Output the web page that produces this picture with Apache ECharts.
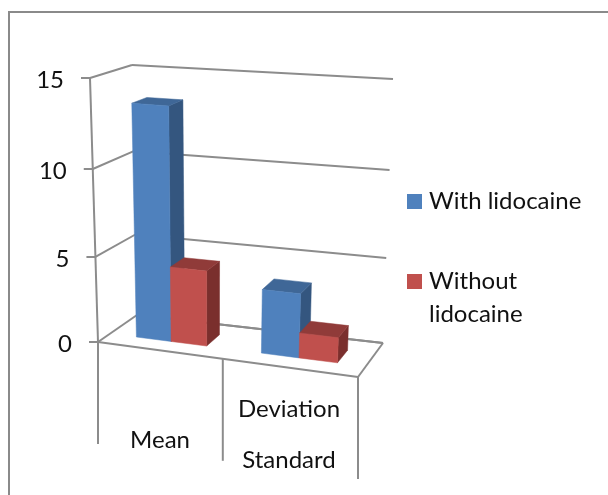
<!DOCTYPE html>
<html>
<head>
<meta charset="utf-8">
<style>
  html, body { margin: 0; padding: 0; background: #fff; }
  #chart { width: 608px; height: 495px; }
</style>
</head>
<body>
<div id="chart"></div>
<script src="https://cdn.jsdelivr.net/npm/echarts@6/dist/echarts.min.js"></script>
<script>
const categories = ['Mean', 'Standard Deviation']
const categoryLines = [['Mean'], ['Deviation', 'Standard']]
const withLidocaine = [13.5, 3.7]
const withoutLidocaine = [4.4, 1.45]
const yTicks = [0, 5, 10, 15]
const seriesNames = ['With lidocaine', 'Without lidocaine']

const fontFamily = 'Lato, sans-serif'
const fontSize = 24
const lineColor = '#8c8c8c'
const blue = { front: '#4f81bd', side: '#34567f', top: '#3f6797' }
const red = { front: '#c0504d', side: '#7a2f2d', top: '#903b39' }

// flat grid the axes work on, the 3D look is a warp on top of it
const gridLeft = 98
const gridTop = 78
const gridWidth = 260
const gridHeight = 264

// floor corners and height vectors
const FL = [98, 342], FR = [358, 377], BL = [137, 315], BR = [383, 343]
const HFL = [-8, -264], HFR = [12, -278], HBL = [-5, -250], HBR = [10, -264]

const lerp = (a, b, k) => [a[0] + (b[0] - a[0]) * k, a[1] + (b[1] - a[1]) * k]

// flat pixel + depth (0 front, 1 back) => picture pixel
function warp(pt, d) {
  const s = (pt[0] - gridLeft) / gridWidth
  const t = (gridTop + gridHeight - pt[1]) / gridHeight
  const u = 0.92 * s + 0.08 * s * s
  const h = 0.949 * t + 0.051 * t * t
  const floor = lerp(lerp(FL, FR, u), lerp(BL, BR, u), d)
  const up = lerp(lerp(HFL, HFR, u), lerp(HBL, HBR, u), d)
  return [floor[0] + up[0] * h, floor[1] + up[1] * h]
}

const poly = (points, fill) => ({
  type: 'polygon',
  shape: { points: points },
  style: { fill: fill, stroke: fill, lineWidth: 0.5 }
})
const line = (a, b) => ({
  type: 'line',
  shape: { x1: a[0], y1: a[1], x2: b[0], y2: b[1] },
  style: { stroke: lineColor, lineWidth: 2 }
})
const label = (text, x, y, align) => ({
  type: 'text',
  style: { text: text, x: x, y: y, align: align, verticalAlign: 'middle', fill: '#111', font: fontSize + 'px ' + fontFamily }
})

// one 3D bar, side 0 sits left of the category centre and side 1 right of it
function barItem(side, colors) {
  return function (params, api) {
    const cat = api.value(0)
    const val = api.value(1)
    const band = api.size([1, 0])[0] * 0.286
    const top = api.coord([cat, val])
    const base = api.coord([cat, 0])
    const x0 = top[0] + (side - 1) * band + 1
    const x1 = x0 + band
    const d0 = 0.31
    const d1 = 0.69
    const p = (x, y, d) => warp([x, y], d)
    return {
      type: 'group',
      children: [
        poly([p(x1, base[1], d0), p(x1, base[1], d1), p(x1, top[1], d1), p(x1, top[1], d0)], colors.side),
        poly([p(x0, top[1], d0), p(x1, top[1], d0), p(x1, top[1], d1), p(x0, top[1], d1)], colors.top),
        poly([p(x0, base[1], d0), p(x1, base[1], d0), p(x1, top[1], d0), p(x0, top[1], d0)], colors.front)
      ]
    }
  }
}

// side wall line, back wall line, tick and number for one y tick
function wallItem(params, api) {
  const val = api.value(0)
  const y = api.coord([0, val])[1]
  const front = warp([gridLeft, y], 0)
  const back = warp([gridLeft, y], 1)
  const right = warp([gridLeft + gridWidth, y], 1)
  return {
    type: 'group',
    children: [
      line(front, back),
      line(back, right),
      line([front[0] - 9, front[1]], front),
      label(String(val), front[0] - 26, front[1] + 2, 'right')
    ]
  }
}

function frameItem(params, api) {
  const y0 = api.coord([0, 0])[1]
  const yMax = api.coord([0, 15])[1]
  const xRight = gridLeft + gridWidth
  const xMid = gridLeft + gridWidth / 2
  const drop = (p) => line(p, [p[0], p[1] + 102])
  return {
    type: 'group',
    children: [
      line(warp([gridLeft, yMax], 0), warp([gridLeft, y0], 0)),
      line(warp([gridLeft, y0], 0), warp([xRight, y0], 0)),
      line(warp([xRight, y0], 0), warp([xRight, y0], 1)),
      line(warp([gridLeft, y0], 1), warp([xRight, y0], 1)),
      drop(warp([gridLeft, y0], 0)),
      drop(warp([xMid, y0], 0)),
      drop(warp([xRight, y0], 0))
    ]
  }
}

function categoryItem(params, api) {
  const idx = api.value(0)
  const x = api.coord([idx, 0])[0] - (idx === 0 ? 3 : 4)
  const lines = categoryLines[idx]
  return {
    type: 'group',
    children: lines.map((txt, i) => label(txt, x, lines.length === 1 ? 440 : 409 + i * 51, 'center'))
  }
}

const chart = echarts.init(document.getElementById('chart'), null, { renderer: 'canvas' })
chart.setOption({
  animation: false,
  backgroundColor: '#fff',
  grid: { left: gridLeft, top: gridTop, width: gridWidth, height: gridHeight },
  xAxis: { type: 'category', data: categories, show: false },
  yAxis: { type: 'value', min: 0, max: 15, interval: 5, show: false },
  graphic: [
    { type: 'polyline', shape: { points: [[9, 495], [9, 12], [608, 12]] }, style: { stroke: '#8a8a8a', fill: null, lineWidth: 2 } },
    { type: 'rect', shape: { x: 407, y: 194, width: 15, height: 15 }, style: { fill: blue.front } },
    { type: 'text', x: 429, y: 201, style: { text: seriesNames[0], verticalAlign: 'middle', fill: '#111', font: fontSize + 'px ' + fontFamily } },
    { type: 'rect', shape: { x: 407, y: 274, width: 15, height: 15 }, style: { fill: red.front } },
    { type: 'text', x: 429, y: 281, style: { text: 'Without', verticalAlign: 'middle', fill: '#111', font: fontSize + 'px ' + fontFamily } },
    { type: 'text', x: 429, y: 314, style: { text: 'lidocaine', verticalAlign: 'middle', fill: '#111', font: fontSize + 'px ' + fontFamily } }
  ],
  series: [
    { type: 'custom', name: 'walls', data: yTicks.map((v) => [v]), encode: { y: 0 }, renderItem: wallItem, clip: false, z: 1, silent: true },
    { type: 'custom', name: 'frame', data: [[0]], renderItem: frameItem, clip: false, z: 2, silent: true },
    { type: 'custom', name: 'labels', data: categories.map((c, i) => [i]), encode: { x: 0 }, renderItem: categoryItem, clip: false, z: 2, silent: true },
    { type: 'custom', name: seriesNames[0], data: withLidocaine.map((v, i) => [i, v]), encode: { x: 0, y: 1 }, renderItem: barItem(0, blue), clip: false, z: 3 },
    { type: 'custom', name: seriesNames[1], data: withoutLidocaine.map((v, i) => [i, v]), encode: { x: 0, y: 1 }, renderItem: barItem(1, red), clip: false, z: 4 }
  ]
})
</script>
</body>
</html>
